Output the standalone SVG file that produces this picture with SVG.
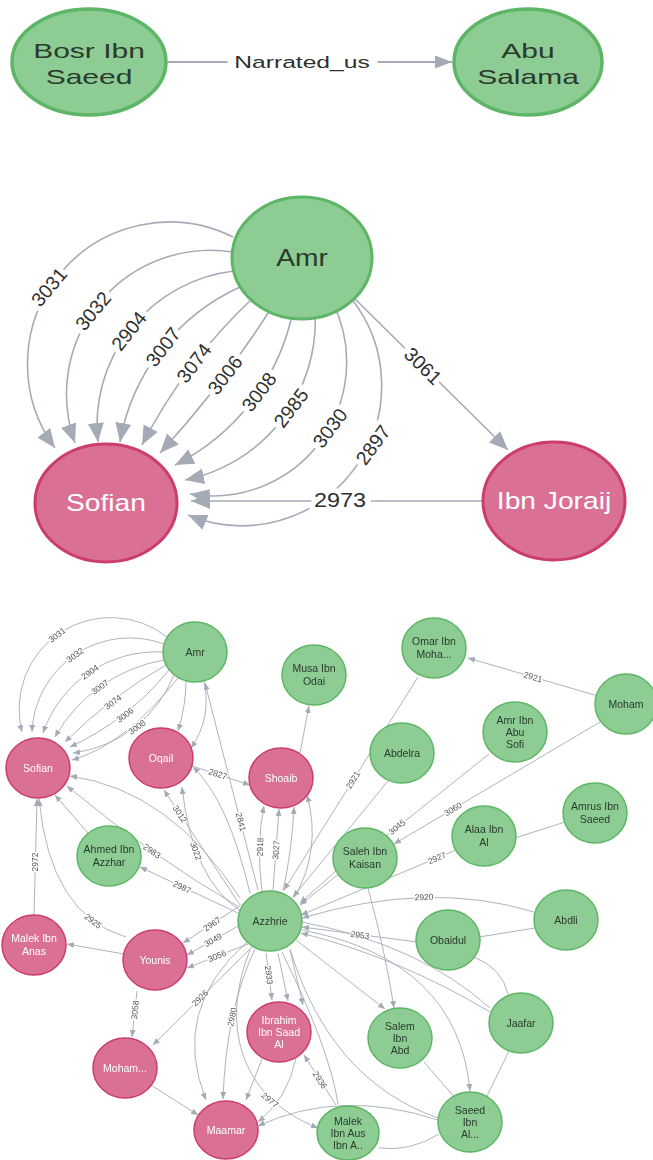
<svg xmlns="http://www.w3.org/2000/svg" width="653" height="1160" viewBox="0 0 653 1160">
<defs>
<style>
.edge{fill:none;stroke:#A5ABB6;stroke-linecap:butt}
.w-top{stroke-width:2}
.w-mid{stroke-width:1.6}
.w-bot{stroke-width:0.9}
.lbl{font-family:"Liberation Sans",Arial,Helvetica,sans-serif;fill:#2f2f2f;text-anchor:middle;paint-order:stroke;stroke:#fff;stroke-linejoin:round}
.lbl-top{font-size:17px;stroke-width:12px}
.lbl-mid{font-size:19.5px;stroke-width:10px}
.lbl-bot{font-size:8.5px;stroke-width:3px;fill:#555}
.ng{fill:#8DCC93;stroke:#5DB665}
.np{fill:#DA7194;stroke:#CC3C6C}
.s-top{stroke-width:3.5}
.s-mid{stroke-width:3}
.s-bot{stroke-width:1.5}
.cap{font-family:"Liberation Sans",Arial,Helvetica,sans-serif;text-anchor:middle}
.cg{fill:#2A3A2E}
.cp{fill:#fff}
.cap-top{font-size:20.7px}
.cap-mid{font-size:23.5px}
.cap-bot{font-size:10.5px}
</style>
<filter id="soft" x="-5%" y="-5%" width="110%" height="110%"><feGaussianBlur stdDeviation="0.55"/></filter>
<marker id="arrow-top" markerUnits="userSpaceOnUse" markerWidth="18" markerHeight="14" refX="17" refY="6.5" orient="auto"><path d="M0,0 L17,6.5 L0,13 z" fill="#A5ABB6"/></marker>
<marker id="arrow-mid" markerUnits="userSpaceOnUse" markerWidth="20" markerHeight="17" refX="19" refY="8" orient="auto"><path d="M0,0 L19,8 L0,16 z" fill="#A5ABB6"/></marker>
<marker id="arrow-bot" markerUnits="userSpaceOnUse" markerWidth="8" markerHeight="7" refX="7" refY="3" orient="auto"><path d="M0,0 L7,3 L0,6 z" fill="#A5ABB6"/></marker>
</defs>

<!-- ===== Section 1: single narration ===== -->
<g id="connectors-narration">
  <path class="edge w-top" d="M168,62 L452,62" marker-end="url(#arrow-top)"/>
  <text class="lbl lbl-top" transform="translate(302,68) scale(1.45,1)">Narrated_us</text>
</g>
<g id="node-bosr-ibn-saeed">
  <ellipse class="ng s-top" cx="89" cy="62" rx="77" ry="53"/>
  <text class="cap cg cap-top" transform="translate(89,0) scale(1.45,1)"><tspan x="0" y="58.2">Bosr Ibn</tspan><tspan x="0" y="84.2">Saeed</tspan></text>
</g>
<g id="node-abu-salama">
  <ellipse class="ng s-top" cx="528" cy="62" rx="74" ry="53"/>
  <text class="cap cg cap-top" transform="translate(528,0) scale(1.45,1)"><tspan x="0" y="58.2">Abu</tspan><tspan x="0" y="84.2">Salama</tspan></text>
</g>

<!-- ===== Section 2: Amr / Sofian / Ibn Joraij ===== -->
<g id="connectors-amr-sofian">
  <path class="edge w-mid" d="M233,237 A142,142 0 0 0 55,448" marker-end="url(#arrow-mid)"/>
  <path class="edge w-mid" d="M233,252 A144,144 0 0 0 75,443" marker-end="url(#arrow-mid)"/>
  <path class="edge w-mid" d="M234,271 A155,155 0 0 0 98,442" marker-end="url(#arrow-mid)"/>
  <path class="edge w-mid" d="M240,287 A210,210 0 0 0 120,442" marker-end="url(#arrow-mid)"/>
  <path class="edge w-mid" d="M253,298 A541,541 0 0 0 142,445" marker-end="url(#arrow-mid)"/>
  <path class="edge w-mid" d="M272,307 A1034,1034 0 0 1 160,453" marker-end="url(#arrow-mid)"/>
  <path class="edge w-mid" d="M293,311 A222,222 0 0 1 175,465" marker-end="url(#arrow-mid)"/>
  <path class="edge w-mid" d="M315,312 A162,162 0 0 1 185,480" marker-end="url(#arrow-mid)"/>
  <path class="edge w-mid" d="M333,303 A134,134 0 0 1 190,494" marker-end="url(#arrow-mid)"/>
  <path class="edge w-mid" d="M350,297 A140,140 0 0 1 188,515" marker-end="url(#arrow-mid)"/>
  <path class="edge w-mid" d="M352,296 L508,450" marker-end="url(#arrow-mid)"/>
  <path class="edge w-mid" d="M483,501 L191,501" marker-end="url(#arrow-mid)"/>

  <text class="lbl lbl-mid" transform="translate(49,287) rotate(-49.9)" y="6.8">3031</text>
  <text class="lbl lbl-mid" transform="translate(93,311) rotate(-50.4)" y="6.8">3032</text>
  <text class="lbl lbl-mid" transform="translate(129,331) rotate(-51.5)" y="6.8">2904</text>
  <text class="lbl lbl-mid" transform="translate(163,347) rotate(-52.3)" y="6.8">3007</text>
  <text class="lbl lbl-mid" transform="translate(194,363) rotate(-52.9)" y="6.8">3074</text>
  <text class="lbl lbl-mid" transform="translate(225,375) rotate(-52.5)" y="6.8">3006</text>
  <text class="lbl lbl-mid" transform="translate(259,392) rotate(-52.5)" y="6.8">3008</text>
  <text class="lbl lbl-mid" transform="translate(291,408) rotate(-52.3)" y="6.8">2985</text>
  <text class="lbl lbl-mid" transform="translate(330,428) rotate(-53.2)" y="6.8">3030</text>
  <text class="lbl lbl-mid" transform="translate(373,445) rotate(-53.4)" y="6.8">2897</text>
  <text class="lbl lbl-mid" transform="translate(423,366) rotate(44.6)" y="6.8">3061</text>
  <text class="lbl lbl-mid" transform="translate(340,507) scale(1.2,1)">2973</text>
</g>
<g id="node-amr">
  <ellipse class="ng s-mid" cx="302" cy="258" rx="70" ry="61"/>
  <text class="cap cg cap-mid" transform="translate(302,266.2) scale(1.2,1)">Amr</text>
</g>
<g id="node-sofian">
  <ellipse class="np s-mid" cx="106" cy="503" rx="71" ry="59"/>
  <text class="cap cp cap-mid" transform="translate(106,511.2) scale(1.2,1)">Sofian</text>
</g>
<g id="node-ibn-joraij">
  <ellipse class="np s-mid" cx="554" cy="501" rx="71" ry="59"/>
  <text class="cap cp cap-mid" transform="translate(554,509.2) scale(1.2,1)">Ibn Joraij</text>
</g>

<!-- ===== Section 3: narrator network (rendered slightly soft) ===== -->
<g id="network" filter="url(#soft)">
<g id="connectors-network">
  <!-- Amr to Sofian arcs -->
  <path class="edge w-bot" d="M167,637 A91.5,91.5 0 0 0 22,732" marker-end="url(#arrow-bot)"/>
  <path class="edge w-bot" d="M164,644 A98,98 0 0 0 32,732" marker-end="url(#arrow-bot)"/>
  <path class="edge w-bot" d="M163,652 A120,120 0 0 0 43,733" marker-end="url(#arrow-bot)"/>
  <path class="edge w-bot" d="M164,660 A156,156 0 0 0 55,737" marker-end="url(#arrow-bot)"/>
  <path class="edge w-bot" d="M166,665 A475,475 0 0 0 65,742" marker-end="url(#arrow-bot)"/>
  <path class="edge w-bot" d="M169,670 A280,280 0 0 1 70,747" marker-end="url(#arrow-bot)"/>
  <path class="edge w-bot" d="M174,675 A126,126 0 0 1 73,753" marker-end="url(#arrow-bot)"/>
  <path class="edge w-bot" d="M178,678 Q125,745 72,760" marker-end="url(#arrow-bot)"/>
  <text class="lbl lbl-bot" transform="translate(57,635) rotate(-37)" y="3">3031</text>
  <text class="lbl lbl-bot" transform="translate(75,655) rotate(-36)" y="3">3032</text>
  <text class="lbl lbl-bot" transform="translate(90,672) rotate(-36)" y="3">2904</text>
  <text class="lbl lbl-bot" transform="translate(100,687) rotate(-35)" y="3">3007</text>
  <text class="lbl lbl-bot" transform="translate(113,702) rotate(-36)" y="3">3074</text>
  <text class="lbl lbl-bot" transform="translate(125,715) rotate(-37)" y="3">3006</text>
  <text class="lbl lbl-bot" transform="translate(137,727) rotate(-36)" y="3">3008</text>

  <!-- Amr to Oqail -->
  <path class="edge w-bot" d="M186,681 Q186,705 178,731" marker-end="url(#arrow-bot)"/>
  <path class="edge w-bot" d="M204,681 Q212,718 191,748" marker-end="url(#arrow-bot)"/>

  <!-- hub edges around Azzhrie -->
  <path class="edge w-bot" d="M258,890 L205,683" marker-end="url(#arrow-bot)"/>
  <text class="lbl lbl-bot" transform="translate(241,822) rotate(75.6)" y="3">2841</text>
  <path class="edge w-bot" d="M192,766 L250,785" marker-end="url(#arrow-bot)"/>
  <text class="lbl lbl-bot" transform="translate(218,774) rotate(18)" y="3">2827</text>
  <path class="edge w-bot" d="M300,753 L309,706" marker-end="url(#arrow-bot)"/>
  <path class="edge w-bot" d="M262,891 Q256,845 264,806" marker-end="url(#arrow-bot)"/>
  <path class="edge w-bot" d="M273,890 L279,809" marker-end="url(#arrow-bot)"/>
  <path class="edge w-bot" d="M283,891 Q292,850 294,807" marker-end="url(#arrow-bot)"/>
  <path class="edge w-bot" d="M294,898 Q322,850 307,795" marker-end="url(#arrow-bot)"/>
  <text class="lbl lbl-bot" transform="translate(260,847) rotate(-88)" y="3">2918</text>
  <text class="lbl lbl-bot" transform="translate(276,850) rotate(-86)" y="3">3027</text>
  <path class="edge w-bot" d="M240,905 L164,790" marker-end="url(#arrow-bot)"/>
  <text class="lbl lbl-bot" transform="translate(180,814) rotate(56.5)" y="3">3012</text>
  <path class="edge w-bot" d="M242,912 Q192,880 182,787" marker-end="url(#arrow-bot)"/>
  <text class="lbl lbl-bot" transform="translate(196,851) rotate(70)" y="3">3022</text>
  <path class="edge w-bot" d="M250,893 Q228,800 193,767" marker-end="url(#arrow-bot)"/>
  <path class="edge w-bot" d="M239,907 Q150,855 67,786" marker-end="url(#arrow-bot)"/>
  <text class="lbl lbl-bot" transform="translate(152,851) rotate(35)" y="3">2983</text>
  <path class="edge w-bot" d="M240,898 Q170,790 70,776" marker-end="url(#arrow-bot)"/>
  <path class="edge w-bot" d="M88,833 L55,795" marker-end="url(#arrow-bot)"/>
  <path class="edge w-bot" d="M238,913 L140,867" marker-end="url(#arrow-bot)"/>
  <text class="lbl lbl-bot" transform="translate(182,887) rotate(25)" y="3">2987</text>
  <path class="edge w-bot" d="M34,915 L37,799" marker-end="url(#arrow-bot)"/>
  <text class="lbl lbl-bot" transform="translate(35,862) rotate(-90)" y="3">2972</text>
  <path class="edge w-bot" d="M124,954 L67,944" marker-end="url(#arrow-bot)"/>
  <path class="edge w-bot" d="M126,937 Q50,915 39,799" marker-end="url(#arrow-bot)"/>
  <text class="lbl lbl-bot" transform="translate(93,921) rotate(37)" y="3">2925</text>
  <path class="edge w-bot" d="M241,905 L183,943" marker-end="url(#arrow-bot)"/>
  <path class="edge w-bot" d="M240,925 L187,955" marker-end="url(#arrow-bot)"/>
  <path class="edge w-bot" d="M248,944 L187,968" marker-end="url(#arrow-bot)"/>
  <text class="lbl lbl-bot" transform="translate(212,924) rotate(-33)" y="3">2967</text>
  <text class="lbl lbl-bot" transform="translate(213,940) rotate(-29)" y="3">3049</text>
  <text class="lbl lbl-bot" transform="translate(217,956) rotate(-21)" y="3">3056</text>
  <path class="edge w-bot" d="M137,991 L132,1037" marker-end="url(#arrow-bot)"/>
  <text class="lbl lbl-bot" transform="translate(135,1010) rotate(-84)" y="3">3058</text>
  <path class="edge w-bot" d="M252,947 L153,1045" marker-end="url(#arrow-bot)"/>
  <text class="lbl lbl-bot" transform="translate(200,998) rotate(-44.6)" y="3">2926</text>
  <path class="edge w-bot" d="M151,1085 L198,1115" marker-end="url(#arrow-bot)"/>
  <path class="edge w-bot" d="M247,942 Q170,1010 206,1100" marker-end="url(#arrow-bot)"/>
  <path class="edge w-bot" d="M255,949 Q226,1010 223,1099" marker-end="url(#arrow-bot)"/>
  <text class="lbl lbl-bot" transform="translate(232,1017) rotate(-78)" y="3">2980</text>
  <path class="edge w-bot" d="M262,1059 L246,1100" marker-end="url(#arrow-bot)"/>
  <path class="edge w-bot" d="M296,1058 Q288,1098 258,1122" marker-end="url(#arrow-bot)"/>
  <path class="edge w-bot" d="M250,950 C222,1020 235,1095 318,1128" marker-end="url(#arrow-bot)"/>
  <text class="lbl lbl-bot" transform="translate(270,1100) rotate(40)" y="3">2977</text>
  <path class="edge w-bot" d="M266,953 L272,1000" marker-end="url(#arrow-bot)"/>
  <path class="edge w-bot" d="M278,953 L288,1001" marker-end="url(#arrow-bot)"/>
  <path class="edge w-bot" d="M290,950 L303,1005" marker-end="url(#arrow-bot)"/>
  <text class="lbl lbl-bot" transform="translate(269,975) rotate(83)" y="3">2933</text>
  <path class="edge w-bot" d="M336,1105 L304,1055" marker-end="url(#arrow-bot)"/>
  <text class="lbl lbl-bot" transform="translate(320,1080) rotate(57)" y="3">2936</text>
  <path class="edge w-bot" d="M438,1120 Q340,1088 258,1126" marker-end="url(#arrow-bot)"/>

  <!-- right-hand narrators -->
  <path class="edge w-bot" d="M598,696 L468,658" marker-end="url(#arrow-bot)"/>
  <text class="lbl lbl-bot" transform="translate(533,677) rotate(16.3)" y="3">2921</text>
  <path class="edge w-bot" d="M418,677 L284,890" marker-end="url(#arrow-bot)"/>
  <text class="lbl lbl-bot" transform="translate(353,780) rotate(-57.8)" y="3">2921</text>
  <path class="edge w-bot" d="M388,781 L293,897" marker-end="url(#arrow-bot)"/>
  <path class="edge w-bot" d="M600,722 L394,844" marker-end="url(#arrow-bot)"/>
  <text class="lbl lbl-bot" transform="translate(453,809) rotate(-30.6)" y="3">3060</text>
  <path class="edge w-bot" d="M489,754 L300,905" marker-end="url(#arrow-bot)"/>
  <text class="lbl lbl-bot" transform="translate(397,827) rotate(-38.6)" y="3">3045</text>
  <path class="edge w-bot" d="M456,850 L301,915" marker-end="url(#arrow-bot)"/>
  <text class="lbl lbl-bot" transform="translate(437,858) rotate(-22.8)" y="3">2927</text>
  <path class="edge w-bot" d="M565,822 L515,838"/>
  <path class="edge w-bot" d="M534,912 Q430,880 302,918" marker-end="url(#arrow-bot)"/>
  <text class="lbl lbl-bot" transform="translate(424,897) rotate(-2)" y="3">2920</text>
  <path class="edge w-bot" d="M535,928 L479,937"/>
  <path class="edge w-bot" d="M417,942 L302,927" marker-end="url(#arrow-bot)"/>
  <text class="lbl lbl-bot" transform="translate(360,935) rotate(7.4)" y="3">2953</text>
  <path class="edge w-bot" d="M490,1012 Q400,958 301,933" marker-end="url(#arrow-bot)"/>
  <path class="edge w-bot" d="M474,957 Q502,968 508,994"/>
  <path class="edge w-bot" d="M336,871 L300,903" marker-end="url(#arrow-bot)"/>
  <path class="edge w-bot" d="M368,888 Q386,955 394,1008" marker-end="url(#arrow-bot)"/>
  <path class="edge w-bot" d="M296,940 L385,1009" marker-end="url(#arrow-bot)"/>
  <path class="edge w-bot" d="M302,930 Q458,960 470,1091" marker-end="url(#arrow-bot)"/>
  <path class="edge w-bot" d="M302,922 Q420,945 490,1008"/>
  <path class="edge w-bot" d="M487,1096 L509,1051"/>
  <path class="edge w-bot" d="M455,1098 L424,1062"/>
  <path class="edge w-bot" d="M439,1134 Q410,1152 379,1148"/>
  <path class="edge w-bot" d="M290,949 Q330,1080 438,1118"/>
  <path class="edge w-bot" d="M282,952 Q330,1050 338,1104"/>
</g>

<g id="node-net-amr"><ellipse class="ng s-bot" cx="195" cy="652" rx="32" ry="30"/><text class="cap cg cap-bot" x="195" y="655.7">Amr</text></g>
<g id="node-net-musa"><ellipse class="ng s-bot" cx="314" cy="675" rx="32" ry="30"/><text class="cap cg cap-bot"><tspan x="314" y="672.2">Musa Ibn</tspan><tspan x="314" y="685.2">Odai</tspan></text></g>
<g id="node-net-omar"><ellipse class="ng s-bot" cx="434" cy="648" rx="32" ry="30"/><text class="cap cg cap-bot"><tspan x="434" y="645.2">Omar Ibn</tspan><tspan x="434" y="658.2">Moha...</tspan></text></g>
<g id="node-net-moham-g"><ellipse class="ng s-bot" cx="626" cy="704" rx="31" ry="30"/><text class="cap cg cap-bot" x="626" y="707.7">Moham</text></g>
<g id="node-net-amr-abu"><ellipse class="ng s-bot" cx="515" cy="732" rx="32" ry="30"/><text class="cap cg cap-bot"><tspan x="515" y="723.7">Amr Ibn</tspan><tspan x="515" y="735.7">Abu</tspan><tspan x="515" y="747.7">Sofi</tspan></text></g>
<g id="node-net-abdelra"><ellipse class="ng s-bot" cx="402" cy="753" rx="32" ry="30"/><text class="cap cg cap-bot" x="402" y="756.7">Abdelra</text></g>
<g id="node-net-sofian"><ellipse class="np s-bot" cx="38" cy="768" rx="32" ry="30"/><text class="cap cp cap-bot" x="38" y="771.7">Sofian</text></g>
<g id="node-net-oqail"><ellipse class="np s-bot" cx="161" cy="758" rx="32" ry="30"/><text class="cap cp cap-bot" x="161" y="761.7">Oqail</text></g>
<g id="node-net-shoaib"><ellipse class="np s-bot" cx="281" cy="778" rx="32" ry="30"/><text class="cap cp cap-bot" x="281" y="781.7">Shoaib</text></g>
<g id="node-net-ahmed"><ellipse class="ng s-bot" cx="109" cy="856" rx="32" ry="30"/><text class="cap cg cap-bot"><tspan x="109" y="853.2">Ahmed Ibn</tspan><tspan x="109" y="866.2">Azzhar</tspan></text></g>
<g id="node-net-saleh"><ellipse class="ng s-bot" cx="365" cy="858" rx="32" ry="30"/><text class="cap cg cap-bot"><tspan x="365" y="855.2">Saleh Ibn</tspan><tspan x="365" y="868.2">Kaisan</tspan></text></g>
<g id="node-net-alaa"><ellipse class="ng s-bot" cx="484" cy="836" rx="32" ry="30"/><text class="cap cg cap-bot"><tspan x="484" y="833.2">Alaa Ibn</tspan><tspan x="484" y="846.2">Al</tspan></text></g>
<g id="node-net-amrus"><ellipse class="ng s-bot" cx="595" cy="813" rx="32" ry="30"/><text class="cap cg cap-bot"><tspan x="595" y="810.2">Amrus Ibn</tspan><tspan x="595" y="823.2">Saeed</tspan></text></g>
<g id="node-net-abdli"><ellipse class="ng s-bot" cx="566" cy="920" rx="32" ry="30"/><text class="cap cg cap-bot" x="566" y="923.7">Abdli</text></g>
<g id="node-net-obaidul"><ellipse class="ng s-bot" cx="448" cy="940" rx="32" ry="30"/><text class="cap cg cap-bot" x="448" y="943.7">Obaidul</text></g>
<g id="node-net-azzhrie"><ellipse class="ng s-bot" cx="270" cy="921" rx="32" ry="30"/><text class="cap cg cap-bot" x="270" y="924.7">Azzhrie</text></g>
<g id="node-net-malek-anas"><ellipse class="np s-bot" cx="34" cy="945" rx="32" ry="30"/><text class="cap cp cap-bot"><tspan x="34" y="942.2">Malek Ibn</tspan><tspan x="34" y="955.2">Anas</tspan></text></g>
<g id="node-net-younis"><ellipse class="np s-bot" cx="155" cy="960" rx="32" ry="30"/><text class="cap cp cap-bot" x="155" y="963.7">Younis</text></g>
<g id="node-net-ibrahim"><ellipse class="np s-bot" cx="279" cy="1032" rx="32" ry="30"/><text class="cap cp cap-bot"><tspan x="279" y="1023.7">Ibrahim</tspan><tspan x="279" y="1035.7">Ibn Saad</tspan><tspan x="279" y="1047.7">Al</tspan></text></g>
<g id="node-net-moham-p"><ellipse class="np s-bot" cx="125" cy="1068" rx="32" ry="30"/><text class="cap cp cap-bot" x="125" y="1071.7">Moham...</text></g>
<g id="node-net-maamar"><ellipse class="np s-bot" cx="226" cy="1130" rx="32" ry="29"/><text class="cap cp cap-bot" x="226" y="1133.7">Maamar</text></g>
<g id="node-net-salem"><ellipse class="ng s-bot" cx="400" cy="1038" rx="32" ry="30"/><text class="cap cg cap-bot"><tspan x="400" y="1029.7">Salem</tspan><tspan x="400" y="1041.7">Ibn</tspan><tspan x="400" y="1053.7">Abd</tspan></text></g>
<g id="node-net-jaafar"><ellipse class="ng s-bot" cx="521" cy="1023" rx="32" ry="30"/><text class="cap cg cap-bot" x="521" y="1026.7">Jaafar</text></g>
<g id="node-net-saeed-al"><ellipse class="ng s-bot" cx="470" cy="1122" rx="32" ry="30"/><text class="cap cg cap-bot"><tspan x="470" y="1113.7">Saeed</tspan><tspan x="470" y="1125.7">Ibn</tspan><tspan x="470" y="1137.7">Al...</tspan></text></g>
<g id="node-net-malek-aus"><ellipse class="ng s-bot" cx="348" cy="1133" rx="31" ry="27"/><text class="cap cg cap-bot"><tspan x="348" y="1124.7">Malek</tspan><tspan x="348" y="1136.7">Ibn Aus</tspan><tspan x="348" y="1148.7">Ibn A..</tspan></text></g>
</g>
</svg>
